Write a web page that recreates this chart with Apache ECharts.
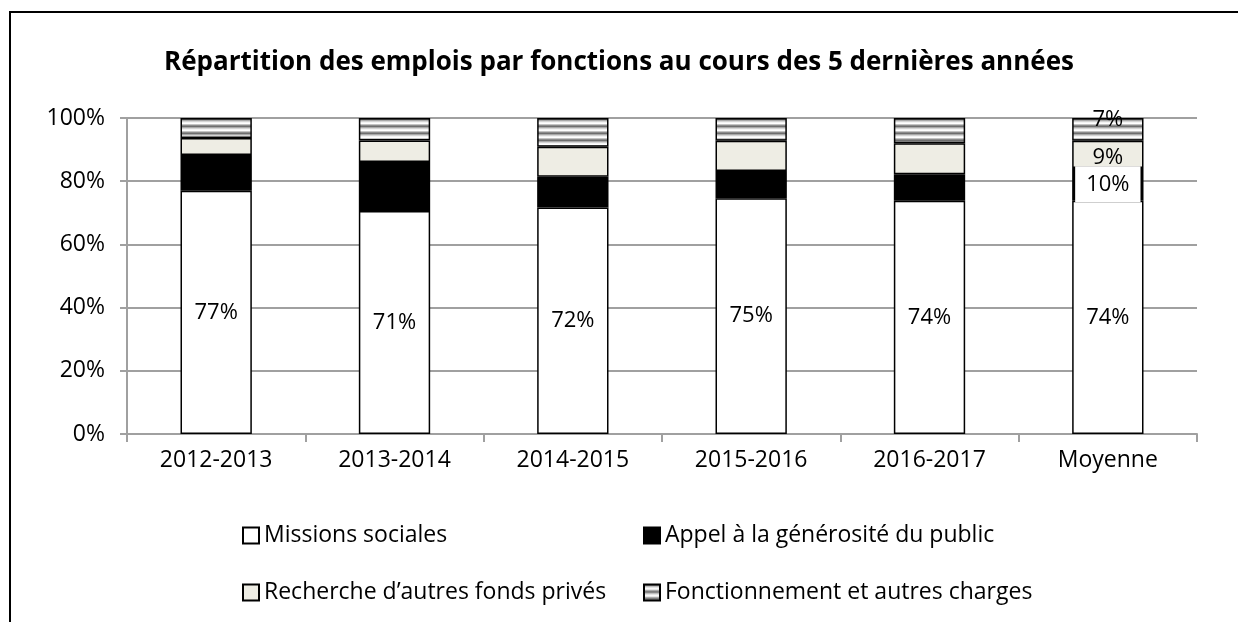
<!DOCTYPE html>
<html>
<head>
<meta charset="utf-8">
<script src="https://cdn.jsdelivr.net/npm/echarts@6/dist/echarts.min.js"></script>
<style>
  html, body { margin: 0; padding: 0; background: #fff; }
  #chart { width: 1238px; height: 622px; }
</style>
</head>
<body>
<div id="chart"></div>
<script>
const categories = ['2012-2013', '2013-2014', '2014-2015', '2015-2016', '2016-2017', 'Moyenne']
const missions = [77.0, 70.6, 71.7, 74.6, 73.8, 73.8]
const appel = [11.3, 15.5, 9.7, 8.6, 8.4, 10.4]
const recherche = [5.4, 6.8, 9.5, 9.6, 9.8, 8.6]
const fonctionnement = [6.3, 7.1, 9.1, 7.2, 8.0, 7.2]
const yTicks = [0, 20, 40, 60, 80, 100]

const FONT = '"Open Sans", sans-serif'

// motif à rayures horizontales pour "Fonctionnement"
const stripe = document.createElement('canvas')
stripe.width = 4
stripe.height = 7
const sctx = stripe.getContext('2d')
const bands = ['#6e6e6e', '#a8a8a8', '#d4d4d4', '#f4f4f4', '#ffffff', '#c4c4c4', '#8c8c8c']
bands.forEach((c, i) => { sctx.fillStyle = c; sctx.fillRect(0, i, 4, 1) })

const chart = echarts.init(document.getElementById('chart'))

const pct = v => Math.round(v) + '%'
const last = categories.length - 1

// étiquettes seulement sur la barre "Moyenne" pour les séries autres que missions
const withLastLabel = (arr, label) => arr.map((v, i) => i === last ? { value: v, label: label } : v)

const barBase = {
  type: 'bar',
  stack: 'total',
  barWidth: '40%'
}

const legendBase = {
  orient: 'vertical',
  top: 519,
  icon: 'rect',
  itemWidth: 16,
  itemHeight: 16,
  itemGap: 34,
  textStyle: { fontFamily: FONT, fontSize: 23, color: '#000' }
}

chart.setOption({
  backgroundColor: '#fff',
  animation: false,
  textStyle: { fontFamily: FONT },
  title: {
    text: 'Répartition des emplois par fonctions au cours des 5 dernières années',
    left: 'center',
    top: 45,
    textStyle: { fontFamily: FONT, fontSize: 26, fontWeight: 'bold', color: '#000' }
  },
  graphic: [{
    type: 'rect',
    shape: { x: 10, y: 12, width: 1300, height: 700 },
    style: { fill: 'none', stroke: '#000', lineWidth: 2 },
    silent: true
  }],
  legend: [
    Object.assign({}, legendBase, {
      left: 237,
      data: ['Missions sociales', 'Recherche d’autres fonds privés']
    }),
    Object.assign({}, legendBase, {
      left: 638,
      data: ['Appel à la générosité du public', 'Fonctionnement et autres charges']
    })
  ],
  grid: { left: 127, right: 41, top: 118, bottom: 188, containLabel: false },
  xAxis: {
    type: 'category',
    data: categories,
    axisLine: { lineStyle: { color: '#a0a0a0', width: 2 } },
    axisTick: { show: true, length: 8, lineStyle: { color: '#a0a0a0', width: 2 } },
    axisLabel: { fontFamily: FONT, fontSize: 23, color: '#000', margin: 15 }
  },
  yAxis: {
    type: 'value',
    min: 0,
    max: 100,
    interval: 20,
    axisLine: { show: true, lineStyle: { color: '#a0a0a0', width: 2 } },
    axisTick: { show: true, length: 7, lineStyle: { color: '#a0a0a0', width: 2 } },
    splitLine: { lineStyle: { color: '#a0a0a0', width: 2 } },
    axisLabel: {
      fontFamily: FONT, fontSize: 23, color: '#000', margin: 22,
      formatter: v => yTicks.includes(v) ? v + '%' : ''
    }
  },
  series: [
    Object.assign({}, barBase, {
      name: 'Missions sociales',
      data: missions,
      itemStyle: { color: '#fff', borderColor: '#000', borderWidth: 1.5 },
      label: {
        show: true, position: 'inside', color: '#000',
        fontFamily: FONT, fontSize: 22,
        formatter: p => pct(p.value)
      }
    }),
    Object.assign({}, barBase, {
      name: 'Appel à la générosité du public',
      data: withLastLabel(appel, {
        show: true, position: 'inside', color: '#000',
        fontFamily: FONT, fontSize: 22,
        backgroundColor: '#fff', padding: [7, 11],
        formatter: p => pct(p.value)
      }),
      itemStyle: { color: '#000', borderColor: '#000', borderWidth: 1.5 }
    }),
    Object.assign({}, barBase, {
      name: 'Recherche d’autres fonds privés',
      data: withLastLabel(recherche, {
        show: true, position: 'inside', color: '#000',
        fontFamily: FONT, fontSize: 22, offset: [0, 3],
        formatter: p => pct(p.value)
      }),
      itemStyle: { color: '#eeede4', borderColor: '#000', borderWidth: 1.5 }
    }),
    Object.assign({}, barBase, {
      name: 'Fonctionnement et autres charges',
      data: withLastLabel(fonctionnement, {
        show: true, position: 'inside', color: '#000',
        fontFamily: FONT, fontSize: 22, offset: [0, -10],
        formatter: p => pct(p.value)
      }),
      itemStyle: { color: { image: stripe, repeat: 'repeat' }, borderColor: '#000', borderWidth: 1.5 }
    })
  ]
})
</script>
</body>
</html>
